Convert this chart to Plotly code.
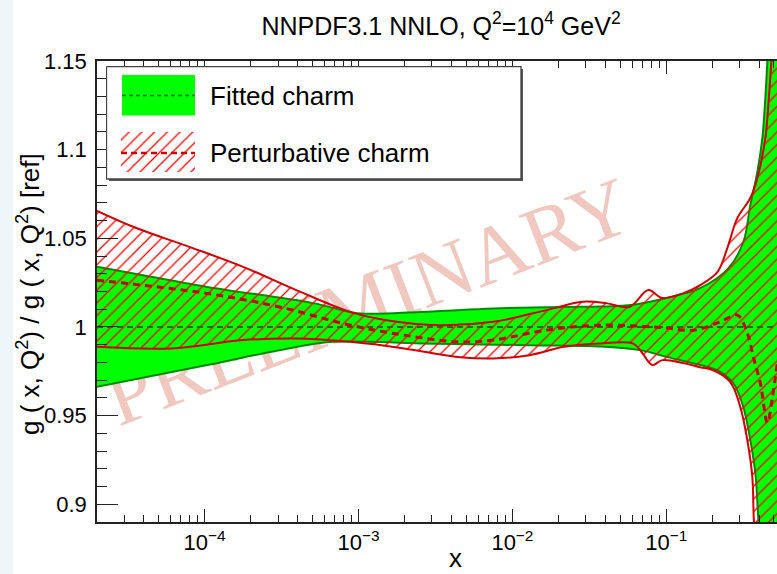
import plotly.graph_objects as go

# ---- Fitted charm: ratio to reference, band edges and central value ----
x_fit_up = [2.0e-5, 3.6e-5, 1.04e-4, 5.16e-4, 9.8e-4, 2.56e-3, 7.5e-3, 2.17e-2,
            3.73e-2, 6.1e-2, 0.1015, 0.166, 0.2528, 0.3164, 0.3513, 0.3903,
            0.4206, 0.4397, 0.4532, 0.60]
fit_up = [1.0339, 1.0299, 1.0226, 1.0133, 1.0078, 1.0085, 1.0104, 1.0113,
          1.0115, 1.0125, 1.0165, 1.0219, 1.0330, 1.0479, 1.0687, 1.0874,
          1.1065, 1.1291, 1.1494, 1.32]

x_fit_lo = [2.0e-5, 1.04e-4, 3.06e-4, 6.76e-4, 2.56e-3, 1.29e-2, 3.73e-2, 6.9e-2,
            0.1015, 0.166, 0.2145, 0.2724, 0.3164, 0.3513, 0.3787, 0.3962, 0.60]
fit_lo = [0.9662, 0.9785, 0.9869, 0.9916, 0.9907, 0.9897, 0.9890, 0.9868,
          0.9830, 0.9785, 0.9756, 0.9683, 0.9548, 0.9361, 0.9175, 0.8910, 0.65]

x_fit_c = [2.0e-5, 0.60]
fit_c = [1.0, 1.0]

# ---- Perturbative charm ----
x_pch_up = [2.0e-5, 3.6e-5, 7.95e-5, 1.78e-4, 3.94e-4, 8.84e-4, 1.52e-3, 3.35e-3,
            7.51e-3, 1.66e-2, 2.85e-2, 4.14e-2, 5.75e-2, 7.64e-2, 9.42e-2, 0.129,
            0.166, 0.2145, 0.249, 0.2892, 0.3513, 0.3903, 0.4397, 0.460, 0.4811, 0.60]
pch_up = [1.0655, 1.0558, 1.0452, 1.0339, 1.0208, 1.0085, 1.0038, 1.0010,
          1.0029, 1.0095, 1.0142, 1.0133, 1.0113, 1.0208, 1.0163, 1.0191,
          1.0236, 1.0309, 1.0445, 1.0614, 1.0727, 1.0840, 1.1065, 1.1252, 1.1494, 1.27]

x_pch_lo = [2.0e-5, 6.07e-5, 1.78e-4, 3.94e-4, 8.84e-4, 1.98e-3, 4.39e-3, 7.51e-3,
            1.29e-2, 2.17e-2, 3.73e-2, 6.1e-2, 6.98e-2, 8.11e-2, 9.42e-2, 0.129,
            0.166, 0.202, 0.2605, 0.3025, 0.3359, 0.3621, 0.3703, 0.60]
pch_lo = [0.9888, 0.9879, 0.9926, 0.9935, 0.9916, 0.9879, 0.9831, 0.9822,
          0.9841, 0.9888, 0.9907, 0.9906, 0.9853, 0.9785, 0.9813, 0.9796,
          0.9773, 0.9756, 0.9689, 0.9548, 0.9361, 0.9153, 0.8910, 0.55]

x_pch_c = [2.0e-5, 1.04e-4, 3.06e-4, 8.84e-4, 1.98e-3, 4.39e-3, 7.51e-3, 1.66e-2,
           3.73e-2, 9.14e-2, 0.150, 0.2243, 0.2892, 0.3359, 0.3675, 0.4082,
           0.4532, 0.4884, 0.5263]
pch_c = [1.0264, 1.0189, 1.0113, 1.0010, 0.9954, 0.9916, 0.9926, 0.9982,
         1.0010, 0.9997, 0.9982, 1.0029, 1.0067, 0.9965, 0.9830, 0.9683,
         0.9460, 0.9600, 0.9800]

# ---- axis ticks ----
x_major = [1e-4, 1e-3, 1e-2, 1e-1]
x_major_text = ["10<sup>\u22124</sup>", "10<sup>\u22123</sup>",
                "10<sup>\u22122</sup>", "10<sup>\u22121</sup>"]
x_minor = [m * 10.0 ** e for e in range(-5, 0) for m in range(2, 10)]
y_major = [0.9, 0.95, 1.0, 1.05, 1.1, 1.15]
y_major_text = ["0.9", "0.95", "1", "1.05", "1.1", "1.15"]

legend_labels = ["Fitted charm", "Perturbative charm"]

GREEN = "#00ff00"
GREEN_EDGE = "#008a00"
GREEN_DASH = "#1f6b1f"
RED_EDGE = "#d00000"
RED_HATCH = "#ff0000"
FONT = "Liberation Sans, Arial, Helvetica, sans-serif"

# thin red "/" hatching, about 9 px between lines
hatch = dict(shape="/", fgcolor=RED_HATCH, fgopacity=1,
             bgcolor="rgba(0,0,0,0)", size=9, solidity=0.14)

fig = go.Figure()

# green band
fig.add_trace(go.Scatter(x=x_fit_lo, y=fit_lo, mode="lines",
                         line=dict(color=GREEN_EDGE, width=2, shape="spline"),
                         showlegend=False, hoverinfo="skip"))
fig.add_trace(go.Scatter(x=x_fit_up, y=fit_up, mode="lines", fill="tonexty",
                         fillcolor=GREEN,
                         line=dict(color=GREEN_EDGE, width=2, shape="spline"),
                         showlegend=False, hoverinfo="skip"))
# red hatched band
fig.add_trace(go.Scatter(x=x_pch_lo, y=pch_lo, mode="lines",
                         line=dict(color=RED_EDGE, width=2, shape="spline"),
                         showlegend=False, hoverinfo="skip"))
fig.add_trace(go.Scatter(x=x_pch_up, y=pch_up, mode="lines", fill="tonexty",
                         fillcolor="rgba(255,0,0,0)", fillpattern=hatch,
                         line=dict(color=RED_EDGE, width=2, shape="spline"),
                         showlegend=False, hoverinfo="skip"))
# central values
fig.add_trace(go.Scatter(x=x_fit_c, y=fit_c, mode="lines",
                         line=dict(color=GREEN_DASH, width=2, dash="6px,4px"),
                         showlegend=False, hoverinfo="skip"))
fig.add_trace(go.Scatter(x=x_pch_c, y=pch_c, mode="lines",
                         line=dict(color="#c80000", width=3, dash="7px,5px",
                                   shape="spline"),
                         showlegend=False, hoverinfo="skip"))

# ---- legend panel on its own small axes (units: pixels inside the box) ----
lx2 = "x2"
ly2 = "y2"
fig.add_trace(go.Scatter(x=[3, 417, 417, 3, 3], y=[3, 3, 115, 115, 3],
                         fill="toself", fillcolor="#555555", mode="lines",
                         line=dict(width=0), xaxis=lx2, yaxis=ly2,
                         showlegend=False, hoverinfo="skip"))
fig.add_trace(go.Scatter(x=[0.5, 415, 415, 0.5, 0.5], y=[0.5, 0.5, 113, 113, 0.5],
                         fill="toself", fillcolor="white", mode="lines",
                         line=dict(color="#444444", width=1.3), xaxis=lx2, yaxis=ly2,
                         showlegend=False, hoverinfo="skip"))
fig.add_trace(go.Scatter(x=[16, 89, 89, 16, 16], y=[9, 9, 49.5, 49.5, 9],
                         fill="toself", fillcolor=GREEN, mode="lines",
                         line=dict(width=0), xaxis=lx2, yaxis=ly2,
                         showlegend=False, hoverinfo="skip"))
fig.add_trace(go.Scatter(x=[16, 89], y=[29.5, 29.5], mode="lines",
                         line=dict(color=GREEN_DASH, width=1.5, dash="4px,3px"),
                         xaxis=lx2, yaxis=ly2, showlegend=False, hoverinfo="skip"))
fig.add_trace(go.Scatter(x=[15, 89, 89, 15, 15], y=[66, 66, 106, 106, 66],
                         fill="toself", fillcolor="rgba(255,0,0,0)", fillpattern=hatch,
                         mode="lines", line=dict(width=0), xaxis=lx2, yaxis=ly2,
                         showlegend=False, hoverinfo="skip"))
fig.add_trace(go.Scatter(x=[15, 89], y=[87, 87], mode="lines",
                         line=dict(color="#c80000", width=2.5, dash="6px,4px"),
                         xaxis=lx2, yaxis=ly2, showlegend=False, hoverinfo="skip"))
for yy, lab in zip([30, 87], legend_labels):
    fig.add_annotation(x=102, y=yy, xref=lx2, yref=ly2, text=lab, showarrow=False,
                       xanchor="left", yanchor="middle",
                       font=dict(family=FONT, size=26, color="black"))

W, H = 777, 574
ML, MR, MT, MB = 97, 0, 61, 52
PW, PH = W - ML - MR, H - MT - MB


def px_x(p):
    return (p - ML) / PW


def px_y(p):
    return (H - MB - p) / PH


axis_common = dict(showline=True, linecolor="#222222", linewidth=1.5,
                   ticks="inside", tickcolor="#222222", tickwidth=1.2,
                   showgrid=False, zeroline=False,
                   tickfont=dict(family=FONT, size=22, color="black"))

fig.update_layout(
    width=W, height=H,
    margin=dict(l=ML, r=MR, t=MT, b=MB),
    paper_bgcolor="white", plot_bgcolor="rgba(0,0,0,0)",
    showlegend=False,
    title=dict(text="NNPDF3.1 NNLO, Q<sup>2</sup>=10<sup>4</sup> GeV<sup>2</sup>",
               x=441 / W, xref="container", xanchor="center",
               y=1 - 26 / H, yref="container", yanchor="middle",
               font=dict(family=FONT, size=25, color="black")),
    xaxis=dict(type="log", range=[-4.699, -0.281], mirror="ticks",
               tickmode="array", tickvals=x_major, ticktext=x_major_text,
               ticklen=13,
               minor=dict(tickmode="array", tickvals=x_minor, ticks="inside",
                          ticklen=7, tickcolor="#222222", tickwidth=1.2,
                          showgrid=False),
               **axis_common),
    yaxis=dict(range=[0.89, 1.15], tickmode="array", tickvals=y_major,
               ticktext=y_major_text, ticklen=21, ticklabelstandoff=4,
               minor=dict(dtick=0.01, tick0=0.9, ticks="inside", ticklen=10,
                          tickcolor="#222222", tickwidth=1.2, showgrid=False),
               **axis_common),
    xaxis2=dict(domain=[px_x(106), px_x(523)], range=[0, 417], visible=False,
                anchor="y2", fixedrange=True),
    yaxis2=dict(domain=[px_y(181), px_y(66)], range=[115, 0], visible=False,
                anchor="x2", fixedrange=True),
)

# axis titles
fig.add_annotation(text="x", x=px_x(455), y=px_y(558), xref="paper", yref="paper",
                   showarrow=False, xanchor="center", yanchor="middle",
                   font=dict(family=FONT, size=26, color="black"))
fig.add_annotation(text="g ( x, Q<sup>2</sup>) / g ( x, Q<sup>2</sup>) [ref]",
                   x=px_x(28), y=px_y(294), xref="paper", yref="paper",
                   textangle=-90, showarrow=False, xanchor="center", yanchor="middle",
                   font=dict(family=FONT, size=26, color="black"))

# watermark, kept underneath the data
fig.add_shape(type="rect", xref="paper", yref="paper",
              x0=px_x(315), x1=px_x(415), y0=px_y(323), y1=px_y(263),
              line=dict(width=0), fillcolor="rgba(0,0,0,0)", layer="below",
              label=dict(text="PRELIMINARY", textangle=-21,
                         textposition="middle center",
                         font=dict(family="Liberation Serif, Times New Roman, serif",
                                   size=82, color="#f1c8c0")))

# light strip along the left edge of the page
fig.add_shape(type="rect", xref="paper", yref="paper",
              x0=px_x(0), x1=px_x(13), y0=px_y(H + 5), y1=px_y(-5),
              line=dict(width=0), fillcolor="#eef6fa", layer="below")

fig.write_html("out.html")
